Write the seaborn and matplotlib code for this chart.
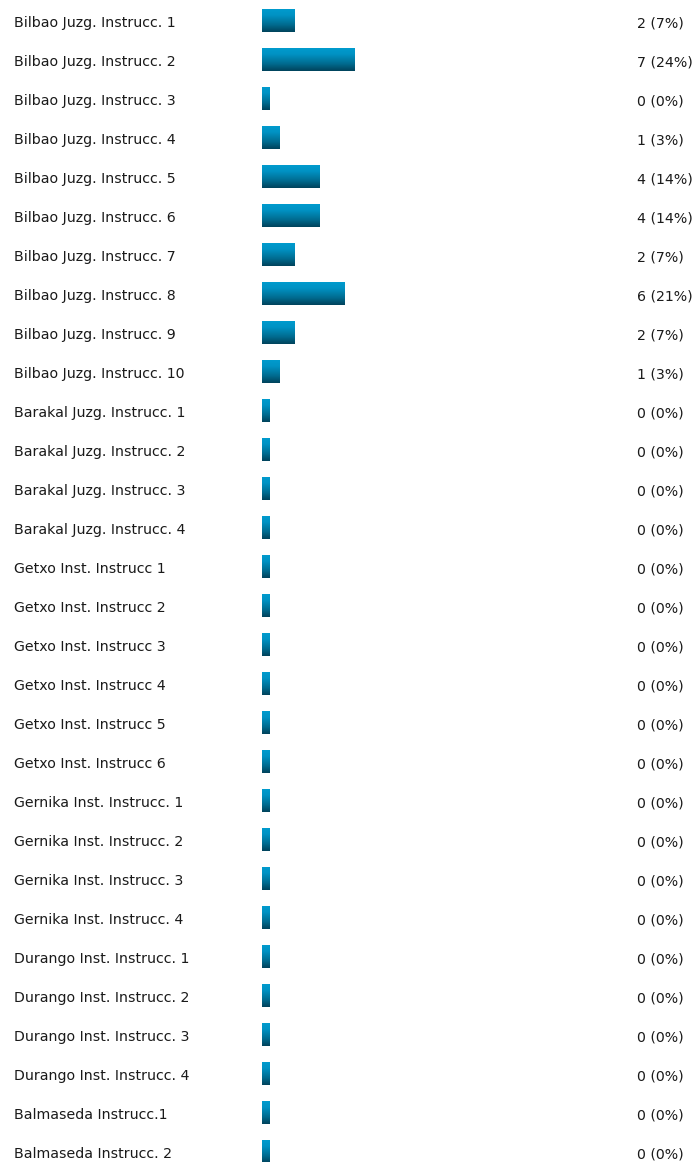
import numpy as np
import pandas as pd
import matplotlib.pyplot as plt
import seaborn as sns
from matplotlib.colors import LinearSegmentedColormap

# Response counts per court
labels = [
    "Bilbao Juzg. Instrucc. 1", "Bilbao Juzg. Instrucc. 2", "Bilbao Juzg. Instrucc. 3",
    "Bilbao Juzg. Instrucc. 4", "Bilbao Juzg. Instrucc. 5", "Bilbao Juzg. Instrucc. 6",
    "Bilbao Juzg. Instrucc. 7", "Bilbao Juzg. Instrucc. 8", "Bilbao Juzg. Instrucc. 9",
    "Bilbao Juzg. Instrucc. 10",
    "Barakal Juzg. Instrucc. 1", "Barakal Juzg. Instrucc. 2", "Barakal Juzg. Instrucc. 3",
    "Barakal Juzg. Instrucc. 4",
    "Getxo Inst. Instrucc 1", "Getxo Inst. Instrucc 2", "Getxo Inst. Instrucc 3",
    "Getxo Inst. Instrucc 4", "Getxo Inst. Instrucc 5", "Getxo Inst. Instrucc 6",
    "Gernika Inst. Instrucc. 1", "Gernika Inst. Instrucc. 2", "Gernika Inst. Instrucc. 3",
    "Gernika Inst. Instrucc. 4",
    "Durango Inst. Instrucc. 1", "Durango Inst. Instrucc. 2", "Durango Inst. Instrucc. 3",
    "Durango Inst. Instrucc. 4",
    "Balmaseda Instrucc.1", "Balmaseda Instrucc. 2",
]
counts = [2, 7, 0, 1, 4, 4, 2, 6, 2, 1] + [0] * 20
percents = [7, 24, 0, 3, 14, 14, 7, 21, 7, 3] + [0] * 20

# small stub so empty answers still show a bar
stub = 2.0

df = pd.DataFrame({"label": labels, "width": np.array(percents) + stub})

sns.set_style("white")
plt.rcParams['font.family'] = ['DejaVu Sans']

fig = plt.figure(figsize=(6.97, 11.62), dpi=100)
ax = fig.add_axes([0, 0, 1, 1])
sns.barplot(data=df, x="width", y="label", orient="h", width=0.59,
            color="#0090c0", ax=ax, saturation=1)

# vertical gradient fill for each bar
cmap = LinearSegmentedColormap.from_list(
    "grad", [(0, "#009ccf"), (0.3, "#0092c3"), (0.7, "#006b8f"), (1, "#00435c")])
grad = np.linspace(0, 1, 64).reshape(-1, 1)
for p in ax.patches:
    x0, y0 = p.get_x(), p.get_y()
    w, h = p.get_width(), p.get_height()
    im = ax.imshow(grad, cmap=cmap, aspect="auto", interpolation="bilinear",
                   extent=(x0, x0 + w, y0 + h, y0), zorder=3)
    im.set_clip_path(p)
    p.set_facecolor("none")
    p.set_edgecolor("none")

ax.set_xlim(-73.4, 121.8)
ax.set_ylim(29.27, -0.526)
ax.axis("off")

trans = ax.get_yaxis_transform()
for i, (lab, c, pc) in enumerate(zip(labels, counts, percents)):
    ax.text(14 / 697, i + 0.07, lab, transform=trans, ha="left", va="center",
            fontsize=10.2, color="#1a1a1a")
    ax.text(637 / 697, i + 0.07, f"{c} ({pc}%)", transform=trans, ha="left", va="center",
            fontsize=10.2, color="#1a1a1a")

fig.savefig("out.png", dpi=100)
